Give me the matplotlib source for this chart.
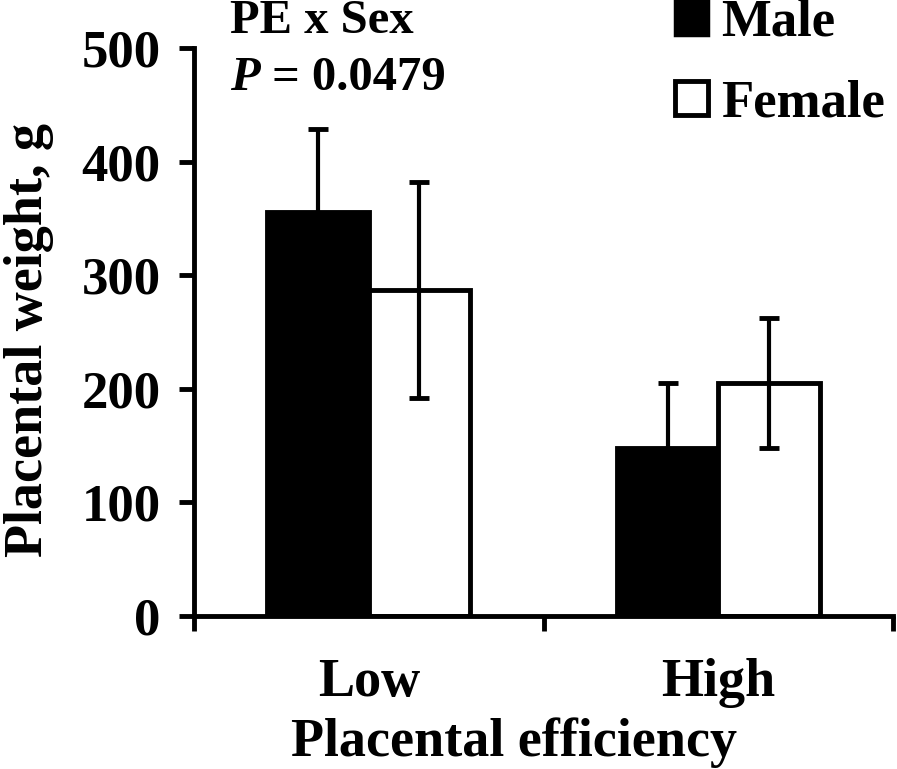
import matplotlib
matplotlib.use("Agg")
import matplotlib.pyplot as plt
import numpy as np
from matplotlib.patches import Patch

categories = ["Low", "High"]
male_vals = [356, 148]
male_err = [73, 57]
female_vals = [287, 205]
female_err = [95, 57]
yticks = [0, 100, 200, 300, 400, 500]

plt.rcParams['font.family'] = ['Liberation Serif', 'DejaVu Serif']
plt.rcParams['font.weight'] = 'bold'

fig = plt.figure(figsize=(8.97, 7.69), dpi=100)
ax = fig.add_axes([194/897, 1-616/769, (893-194)/897, (616-48)/769])

x = np.arange(len(categories))
w = 0.29
lw = 3.5
ekw = dict(elinewidth=3, capthick=3.5, ecolor='black')
ax.bar(x - w/2, male_vals, w, color='black', edgecolor='black', linewidth=lw,
       yerr=male_err, capsize=7, error_kw=ekw, zorder=2, label='Male')
ax.bar(x + w/2, female_vals, w, color='white', edgecolor='black', linewidth=lw,
       yerr=female_err, capsize=7, error_kw=ekw, zorder=2, label='Female')

ax.set_xlim(-0.5, 1.5)
ax.set_ylim(0, 500)
ax.set_yticks(yticks)
ax.set_yticklabels([str(t) for t in yticks], fontsize=38, fontweight='bold')
ax.set_xticks(x)
ax.set_xticklabels(categories, fontsize=39, fontweight='bold')
ax.set_xticks([-0.5, 0.5, 1.5], minor=True)
ax.tick_params(axis='x', which='major', length=0, pad=30)
ax.tick_params(axis='x', which='minor', length=11, width=3.5, direction='out')
ax.tick_params(axis='y', which='major', length=11, width=3.5, direction='out', pad=13)
for s in ['top', 'right']:
    ax.spines[s].set_visible(False)
for s in ['left', 'bottom']:
    ax.spines[s].set_linewidth(3.5)

ax.set_xlabel("Placental efficiency", fontsize=39, fontweight='bold', va='baseline')
ax.xaxis.set_label_coords((514-194)/699, -(756-616)/568)
ax.set_ylabel("Placental weight, g", fontsize=39, fontweight='bold')
ax.yaxis.set_label_coords(-(194-54)/699, (616-340)/568)

fig.text(230/897, 1-33/769, "PE x Sex", fontsize=35, fontweight='bold', va='baseline')
tp = fig.text(230/897, 1-90/769, "P", fontsize=35, fontweight='bold', style='italic', va='baseline')
ax.annotate(" = 0.0479", xy=(1, 0), xycoords=tp, xytext=(0, 0), textcoords='offset points',
            fontsize=35, fontweight='bold', va='bottom', ha='left', annotation_clip=False)

handles = [Patch(facecolor='black', edgecolor='black', linewidth=2.5),
           Patch(facecolor='white', edgecolor='black', linewidth=3.5)]
leg = fig.legend(handles, ["Male", "Female"], loc='upper left',
                 bbox_to_anchor=(675/897, 1+1/769), frameon=False,
                 prop={'size': 38, 'weight': 'bold'},
                 handlelength=0.62, handleheight=0.62, handletextpad=0.25,
                 labelspacing=0.62, borderaxespad=0, borderpad=0)

fig.savefig("out.png", dpi=100)
